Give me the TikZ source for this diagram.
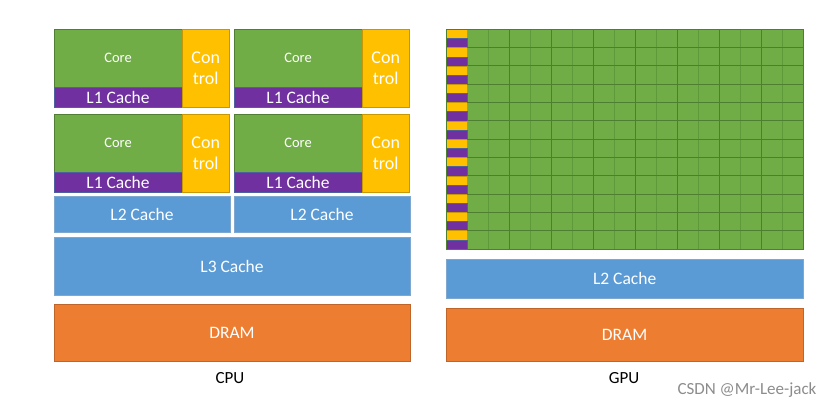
\documentclass[tikz,border=0pt]{standalone}
\usepackage{fontspec}
\setmainfont{Carlito}
\definecolor{cgreen}{HTML}{70AD47}
\definecolor{cgreenD}{HTML}{507E32}
\definecolor{cgrid}{HTML}{4E7F30}
\definecolor{cgridL}{HTML}{5E9A3A}
\definecolor{cyellow}{HTML}{FFC000}
\definecolor{cyellowD}{HTML}{C99700}
\definecolor{cpurple}{HTML}{7030A0}
\definecolor{cpurpleD}{HTML}{4F5FA0}
\definecolor{cblue}{HTML}{5B9BD5}
\definecolor{cblueD}{HTML}{7FA8D0}
\definecolor{corange}{HTML}{ED7D31}
\definecolor{corangeD}{HTML}{C0652A}
\tikzset{
  blk/.style={draw, inner sep=0pt, outer sep=0pt, anchor=north west, text=white, line width=0.6pt, font=\fontsize{17.5}{21}\selectfont},
  corebox/.style={blk, fill=cgreen, draw=cgreenD, minimum width=128pt, minimum height=58.5pt, font=\fontsize{14.5}{17}\selectfont},
  l1box/.style={blk, fill=cpurple, draw=cpurpleD, minimum width=128pt, minimum height=19.5pt},
  ctrlbox/.style={blk, fill=cyellow, draw=cyellowD, minimum width=47.5pt, minimum height=78pt, align=center, font=\fontsize{18}{21.5}\selectfont},
  bluebox/.style={blk, fill=cblue, draw=cblueD},
  dram/.style={blk, fill=corange, draw=corangeD},
  lbl/.style={inner sep=0pt, text=black, font=\fontsize{17}{20}\selectfont}
}
\begin{document}
\begin{tikzpicture}[x=1pt,y=-1pt]
\useasboundingbox (0,0) rectangle (837,409);
% ---------- CPU ----------
% row 1
\node[corebox] (coreA) at (54,29) {Core};
\node[l1box] (l1A) at (54,87.5) {L1 Cache};
\node[ctrlbox] (ctrlA) at (182,29) {Con\\trol};
\node[corebox] (coreB) at (234,29) {Core};
\node[l1box] (l1B) at (234,87.5) {L1 Cache};
\node[ctrlbox] (ctrlB) at (362,29) {Con\\trol};
% row 2
\node[corebox] (coreC) at (54,114) {Core};
\node[l1box] (l1C) at (54,172.5) {L1 Cache};
\node[ctrlbox] (ctrlC) at (182,114) {Con\\trol};
\node[corebox] (coreD) at (234,114) {Core};
\node[l1box] (l1D) at (234,172.5) {L1 Cache};
\node[ctrlbox] (ctrlD) at (362,114) {Con\\trol};
% caches
\node[bluebox, minimum width=176pt, minimum height=36pt] (l2A) at (54,196.7) {L2 Cache};
\node[bluebox, minimum width=176pt, minimum height=36pt] (l2B) at (234,196.7) {L2 Cache};
\node[bluebox, minimum width=356pt, minimum height=57.6pt] (l3) at (54,237.7) {L3 Cache};
\node[dram, minimum width=356pt, minimum height=57pt] (dramC) at (54,304) {DRAM};
\node[lbl] (cpu) at (230,378) {CPU};
% ---------- GPU ----------
\fill[cgreen] (467.3,29.3) rectangle (803.3,249);
\foreach \i in {0,...,11}{
  \pgfmathsetmacro{\ya}{29.3+\i*18.31}
  \pgfmathsetmacro{\yb}{\ya+9.15}
  \pgfmathsetmacro{\yc}{\ya+18.31}
  \filldraw[fill=cyellow, draw=cyellowD, line width=0.5pt] (446,\ya) rectangle (467.3,\yb);
  \filldraw[fill=cpurple, draw=cpurpleD, line width=0.5pt] (446,\yb) rectangle (467.3,\yc);
}
\foreach \j in {1,...,15}{
  \pgfmathsetmacro{\xx}{467.3+\j*21}
  \pgfmathparse{mod(\j,2)==0 ? 1 : 0}
  \ifnum\pgfmathresult=1
    \draw[cgrid, line width=1pt] (\xx,29.3) -- (\xx,249);
  \else
    \draw[cgridL, line width=1pt] (\xx,29.3) -- (\xx,249);
  \fi
}
\foreach \i in {1,...,11}{
  \pgfmathsetmacro{\yy}{29.3+\i*18.31}
  \draw[cgrid, line width=1pt] (467.3,\yy) -- (803.3,\yy);
}
\draw[cgrid, line width=1pt] (446,29.3) rectangle (803.3,249);
\node[bluebox, minimum width=357.3pt, minimum height=39pt] (l2G) at (446,259) {L2 Cache};
\node[dram, minimum width=357.3pt, minimum height=53pt] (dramG) at (446,308) {DRAM};
\node[lbl] (gpu) at (624,378) {GPU};
% watermark
\node[inner sep=0pt, text=black!45, font=\fontsize{17}{20}\selectfont] (wm) at (747,390) {CSDN @Mr-Lee-jack};
\end{tikzpicture}
\end{document}
